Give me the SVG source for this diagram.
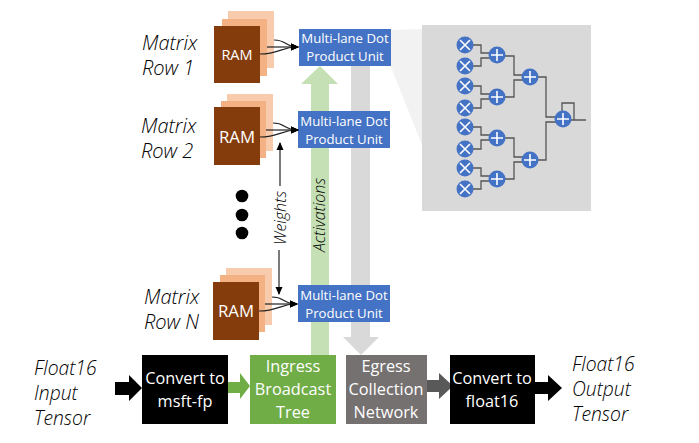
<svg xmlns="http://www.w3.org/2000/svg" width="699" height="443" viewBox="0 0 699 443">
<style>
text{font-family:"Open Sans","Noto Sans",sans-serif}
.w{fill:#fff;text-anchor:middle}
.i{font-style:italic;font-weight:300;fill:#000}
.m{font-size:20px}
.t{font-size:19.3px}
.u{font-size:13.2px}
.b{font-size:16.3px}
.r1{fill:#f8cbad}.r2{fill:#f4b183}.r3{fill:#843c0c}
.dp{fill:#4472c4}
.c{fill:#4472c4}
.g{stroke:#fff;stroke-width:1.6;fill:none}
.l{fill:none;stroke:#222;stroke-width:1.2}
.t2{fill:none;stroke:#555;stroke-width:1.3}
</style>
<defs>
<marker id="a" markerWidth="8" markerHeight="8" refX="7" refY="4" orient="auto" markerUnits="userSpaceOnUse"><path d="M0 0.5L8 4L0 7.5Z" fill="#000"/></marker>
<g id="x"><circle r="8.5" class="c"/><path class="g" d="M-5-5L5 5M-5 5L5-5"/></g>
<g id="p"><circle r="8.5" class="c"/><path class="g" d="M-6 0H6M0-6V6"/></g>
</defs>
<polygon id="fan" points="391,30 422,29 422,145 391,67" fill="#f2f2f2"/>
<g id="arrows">
<polygon id="activations-arrow" points="320,66 338,84 329,84 329,355 311,355 311,84 301,84" fill="#c5e0b4"/>
<polygon id="egress-arrow" points="351,66 370,66 370,337 379,337 361,355 343,337 351,337" fill="#d9d9d9"/>
</g>
<g id="detail">
<rect x="422" y="25" width="169" height="186" fill="#d9d9d9"/>
<g id="detail-lines" class="t2">
<path d="M465 45H481V53H490M465 66H481V58H490"/>
<path d="M465 86H481V94H490M465 108H481V99H490"/>
<path d="M465 127H481V135H490M465 149H481V140H490"/>
<path d="M465 168H481V176H490M465 189H481V181H490"/>
<path d="M497 56H514V75H525M497 97H514V80H525"/>
<path d="M497 138H514V157H525M497 179H514V162H525"/>
<path d="M530 77H546V117H558M530 160H546V122H558"/>
<path d="M562 115V103H574V120M568 120H586"/>
</g>
<use href="#x" x="465" y="45"/><use href="#x" x="465" y="66"/><use href="#x" x="465" y="86"/><use href="#x" x="465" y="108"/>
<use href="#x" x="465" y="127"/><use href="#x" x="465" y="149"/><use href="#x" x="465" y="168"/><use href="#x" x="465" y="189"/>
<use href="#p" x="497" y="55"/><use href="#p" x="497" y="97"/><use href="#p" x="497" y="138"/><use href="#p" x="497" y="179"/>
<use href="#p" x="530" y="77"/><use href="#p" x="530" y="160"/><use href="#p" x="563" y="119"/>
</g>
<g id="ram1">
<rect class="r1" x="228" y="11" width="46" height="57"/><rect class="r2" x="222" y="19" width="45" height="57"/><rect class="r3" x="214" y="26" width="46" height="57"/>
<text class="w" x="237" y="60" font-size="14.5">RAM</text>
</g>
<g id="ram2">
<rect class="r1" x="227" y="94" width="46" height="57"/><rect class="r2" x="221" y="101" width="45" height="57"/><rect class="r3" x="214" y="107" width="46" height="58"/>
<text class="w" x="237" y="143" font-size="16.8">RAM</text>
</g>
<g id="ramn">
<rect class="r1" x="226" y="268" width="46" height="57"/><rect class="r2" x="220" y="275" width="45" height="57"/><rect class="r3" x="213" y="282" width="46" height="58"/>
<text class="w" x="236" y="317" font-size="16.8">RAM</text>
</g>
<g id="dp1"><rect class="dp" x="299" y="29" width="92" height="37"/><text class="w u" x="345" y="43">Multi-lane Dot</text><text class="w u" x="345" y="61">Product Unit</text></g>
<g id="dp2"><rect class="dp" x="298" y="111" width="92" height="37"/><text class="w u" x="344" y="126">Multi-lane Dot</text><text class="w u" x="344" y="144">Product Unit</text></g>
<g id="dpn"><rect class="dp" x="298" y="285" width="92" height="37"/><text class="w u" x="344" y="300">Multi-lane Dot</text><text class="w u" x="344" y="318">Product Unit</text></g>
<g id="connectors">
<path class="l" d="M274 40C287 40 285 47 298 47" marker-end="url(#a)"/><path class="l" d="M267 47H298" marker-end="url(#a)"/><path class="l" d="M260 54C280 54 280 47 298 47" marker-end="url(#a)"/>
<path class="l" d="M273 123C286 123 284 130 298 130" marker-end="url(#a)"/><path class="l" d="M266 130H298" marker-end="url(#a)"/><path class="l" d="M260 137C280 137 280 130 298 130" marker-end="url(#a)"/>
<path class="l" d="M272 297C285 297 283 304 297 304" marker-end="url(#a)"/><path class="l" d="M265 304H297" marker-end="url(#a)"/><path class="l" d="M259 311C279 311 279 304 297 304" marker-end="url(#a)"/>
<path class="l" d="M280 186V143" marker-end="url(#a)"/>
<path class="l" d="M279 250V294" marker-end="url(#a)"/>
</g>
<g id="ellipsis"><circle cx="242" cy="196" r="6.3"/><circle cx="242" cy="215" r="6.3"/><circle cx="242" cy="233" r="6.3"/></g>
<text class="i" font-size="16" transform="translate(286,245) rotate(-90)">Weights</text>
<text class="i" font-size="16" transform="translate(325,252) rotate(-90)">Activations</text>
<g id="labels">
<text class="i m" x="142" y="50">Matrix</text><text class="i m" x="142" y="75">Row 1</text>
<text class="i m" x="141" y="133">Matrix</text><text class="i m" x="141" y="158">Row 2</text>
<text class="i m" x="144" y="304">Matrix</text><text class="i m" x="144" y="329">Row N</text>
<text class="i t" x="34" y="375">Float16</text><text class="i t" x="34" y="400">Input</text><text class="i t" x="34" y="425">Tensor</text>
<text class="i t" x="572" y="371">Float16</text><text class="i t" x="572" y="396">Output</text><text class="i t" x="572" y="421">Tensor</text>
</g>
<g id="flow">
<polygon points="115,382 129,382 129,375 142,388 129,401 129,395 115,395" fill="#000"/>
<polygon points="227,382 240,382 240,373 250,386 240,399 240,393 227,393" fill="#70ad47"/>
<polygon points="426,380 439,380 439,373 453,386 439,399 439,392 426,392" fill="#595959"/>
<polygon points="535,382 548,382 548,375 562,388 548,401 548,394 535,394" fill="#000"/>
</g>
<g id="convert1"><rect x="142" y="355" width="86" height="69" fill="#000"/><text class="w b" x="185" y="384">Convert to</text><text class="w b" x="185" y="407">msft-fp</text></g>
<g id="ingress"><rect x="250" y="355" width="86" height="69" fill="#70ad47"/><text class="w b" x="293" y="372">Ingress</text><text class="w b" x="293" y="395">Broadcast</text><text class="w b" x="293" y="418">Tree</text></g>
<g id="egress"><rect x="346" y="355" width="81" height="69" fill="#767171"/><text class="w b" x="386" y="372">Egress</text><text class="w b" x="386" y="395">Collection</text><text class="w b" x="386" y="418">Network</text></g>
<g id="convert2"><rect x="450" y="355" width="85" height="69" fill="#000"/><text class="w b" x="492" y="384">Convert to</text><text class="w b" x="492" y="407">float16</text></g>
</svg>
